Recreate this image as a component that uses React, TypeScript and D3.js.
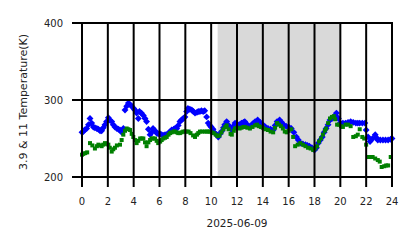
import React from "react";
import * as d3 from "d3";

const hourTicks = [0, 2, 4, 6, 8, 10, 12, 14, 16, 18, 20, 22, 24];
const tempTicks = [200, 300, 400];
const dateLabel = "2025-06-09";
const yLabel = "3.9 & 11 Temperature(K)";
const shadeStart = 10.5;
const shadeEnd = 20;

const blueHours = [0.0, 0.1, 0.2, 0.36, 0.5, 0.62, 0.75, 0.88, 1.0, 1.15, 1.27, 1.4, 1.52, 1.65, 1.78, 1.9, 2.04, 2.15, 2.3, 2.42, 2.55, 2.7, 2.82, 2.94, 3.07, 3.2, 3.33, 3.46, 3.59, 3.72, 3.85, 4.0, 4.1, 4.23, 4.36, 4.45, 4.6, 4.75, 4.88, 5.0, 5.14, 5.27, 5.4, 5.5, 5.65, 5.78, 5.9, 6.05, 6.17, 6.3, 6.43, 6.56, 6.7, 6.82, 6.94, 7.1, 7.2, 7.33, 7.45, 7.58, 7.7, 7.84, 7.97, 8.1, 8.2, 8.35, 8.5, 8.62, 8.75, 8.9, 9.0, 9.13, 9.25, 9.38, 9.5, 9.65, 9.77, 9.9, 10.0, 10.15, 10.3, 10.42, 10.55, 10.68, 10.8, 10.95, 11.05, 11.2, 11.3, 11.45, 11.6, 11.72, 11.85, 12.0, 12.2, 12.35, 12.5, 12.6, 12.8, 13.0, 13.2, 13.4, 13.6, 13.8, 14.0, 14.2, 14.4, 14.6, 14.8, 14.95, 15.1, 15.3, 15.45, 15.6, 15.8, 16.0, 16.2, 16.4, 16.6, 16.75, 16.9, 17.1, 17.3, 17.45, 17.6, 17.8, 18.0, 18.15, 18.3, 18.45, 18.6, 18.75, 18.9, 19.05, 19.2, 19.35, 19.5, 19.6, 19.7, 19.85, 20.0, 20.2, 20.4, 20.6, 20.8, 21.0, 21.2, 21.35, 21.5, 21.7, 21.9, 22.0, 22.15, 22.3, 22.5, 22.7, 22.8, 22.9, 23.1, 23.3, 23.5, 23.7, 23.9, 24.0];
const blueTemps = [258, 259, 261, 263, 268, 276, 270, 265, 264, 263, 262, 260, 260, 264, 268, 272, 277, 274, 272, 268, 265, 263, 262, 261, 258, 263, 287, 292, 296, 294, 292, 289, 287, 283, 276, 285, 283, 280, 276, 272, 262, 255, 258, 263, 260, 257, 256, 256, 255, 254, 255, 255, 257, 259, 261, 262, 263, 263, 267, 272, 274, 276, 278, 285, 289, 288, 287, 285, 283, 284, 285, 285, 286, 285, 286, 278, 270, 267, 265, 262, 257, 255, 252, 256, 259, 264, 268, 272, 268, 264, 261, 266, 270, 269, 268, 270, 271, 272, 268, 265, 269, 272, 274, 271, 268, 265, 263, 262, 261, 267, 272, 274, 271, 268, 266, 265, 263, 258, 252, 248, 244, 243, 242, 241, 240, 238, 235, 238, 244, 248, 252, 258, 263, 268, 274, 276, 278, 280, 283, 276, 270, 270, 270, 271, 272, 271, 270, 270, 270, 270, 270, 261, 252, 246, 250, 255, 251, 248, 248, 248, 248, 248, 249, 250];

const greenHours = [0.0, 0.1, 0.25, 0.4, 0.62, 0.8, 1.0, 1.15, 1.27, 1.4, 1.52, 1.65, 1.78, 1.9, 2.04, 2.15, 2.3, 2.42, 2.55, 2.7, 2.94, 3.07, 3.2, 3.33, 3.46, 3.59, 3.72, 3.85, 3.97, 4.1, 4.23, 4.36, 4.5, 4.62, 4.75, 4.88, 5.0, 5.14, 5.27, 5.4, 5.5, 5.65, 5.78, 5.9, 6.05, 6.17, 6.3, 6.43, 6.56, 6.7, 6.82, 6.94, 7.1, 7.2, 7.33, 7.45, 7.58, 7.7, 7.84, 7.97, 8.1, 8.25, 8.4, 8.6, 8.75, 8.9, 9.0, 9.13, 9.3, 9.5, 9.65, 9.8, 9.9, 10.05, 10.2, 10.35, 10.5, 10.65, 10.8, 10.95, 11.1, 11.2, 11.35, 11.5, 11.6, 11.75, 11.85, 12.0, 12.2, 12.35, 12.5, 12.6, 12.8, 13.0, 13.2, 13.4, 13.55, 13.7, 13.85, 14.0, 14.2, 14.4, 14.6, 14.8, 14.95, 15.1, 15.25, 15.4, 15.55, 15.7, 15.85, 16.0, 16.2, 16.35, 16.5, 16.7, 16.9, 17.1, 17.3, 17.5, 17.7, 17.9, 18.05, 18.2, 18.35, 18.5, 18.65, 18.8, 18.9, 19.05, 19.2, 19.35, 19.5, 19.6, 19.75, 19.9, 20.05, 20.2, 20.4, 20.6, 20.8, 21.0, 21.2, 21.35, 21.5, 21.7, 21.85, 22.0, 22.15, 22.3, 22.5, 22.7, 22.9, 23.05, 23.2, 23.4, 23.55, 23.7, 23.9];
const greenTemps = [229, 230, 231, 232, 244, 241, 237, 240, 242, 241, 240, 242, 244, 243, 242, 238, 233, 236, 238, 241, 242, 248, 255, 260, 263, 262, 261, 256, 252, 248, 244, 247, 250, 250, 250, 245, 240, 245, 248, 250, 250, 250, 247, 244, 246, 248, 250, 251, 252, 255, 257, 258, 259, 259, 258, 257, 257, 258, 259, 259, 259, 259, 257, 254, 252, 255, 257, 259, 259, 259, 259, 259, 259, 258, 257, 255, 253, 254, 258, 262, 265, 267, 262, 256, 255, 260, 263, 264, 263, 264, 265, 265, 264, 263, 265, 267, 268, 266, 265, 264, 262, 261, 259, 258, 264, 270, 268, 266, 263, 259, 258, 260, 262, 252, 240, 242, 244, 242, 240, 238, 237, 235, 237, 240, 246, 250, 255, 260, 263, 270, 276, 278, 279, 275, 268, 268, 266, 265, 268, 268, 266, 252, 253, 255, 262, 252, 250, 242, 226, 226, 226, 224, 222, 220, 213, 214, 215, 215, 226];

const W = 418;
const H = 248;
const L = 82, R = 392, T = 23, B = 177;
const FONT = "DejaVu Sans, sans-serif";

export default function App() {
  const x = d3.scaleLinear().domain([0, 24]).range([L, R]);
  const y = d3.scaleLinear().domain([200, 400]).range([B, T]);
  const diamond = d3.symbol().type(d3.symbolDiamond2).size(30)();
  const square = d3.symbol().type(d3.symbolSquare).size(16)();

  return (
    <svg width={W} height={H} style={{ position: "absolute", left: 0, top: 0, background: "#fff" }}>
      <rect x={x(shadeStart)} y={T} width={x(shadeEnd) - x(shadeStart)} height={B - T} fill="#d9d9d9" />
      <g>
        {blueHours.map((h, i) => (
          <path key={"b" + i} d={diamond} transform={`translate(${x(h)},${y(blueTemps[i])})`} fill="#0000ff" />
        ))}
      </g>
      <g>
        {greenHours.map((h, i) => (
          <path key={"g" + i} d={square} transform={`translate(${x(h)},${y(greenTemps[i])})`} fill="#008000" />
        ))}
      </g>
      <g stroke="#000" strokeWidth={2}>
        {tempTicks.map((t) => (
          <line key={"h" + t} x1={L - 10} x2={R + 1} y1={y(t)} y2={y(t)} />
        ))}
        {hourTicks.map((h) => (
          <line key={"v" + h} x1={x(h)} x2={x(h)} y1={T - 1} y2={B + 10} />
        ))}
      </g>
      <g fontFamily={FONT} fontSize={10} fill="#222">
        {tempTicks.map((t) => (
          <text key={"yt" + t} x={63} y={y(t)} dy="0.36em" textAnchor="end">{t}</text>
        ))}
        {hourTicks.map((h) => (
          <text key={"xt" + h} x={x(h)} y={205} textAnchor="middle">{h}</text>
        ))}
        <text x={(L + R) / 2} y={227} fontSize={10.5} textAnchor="middle">{dateLabel}</text>
        <text transform={`translate(27,${(T + B) / 2 + 2}) rotate(-90)`} fontSize={11} textAnchor="middle">{yLabel}</text>
      </g>
    </svg>
  );
}
